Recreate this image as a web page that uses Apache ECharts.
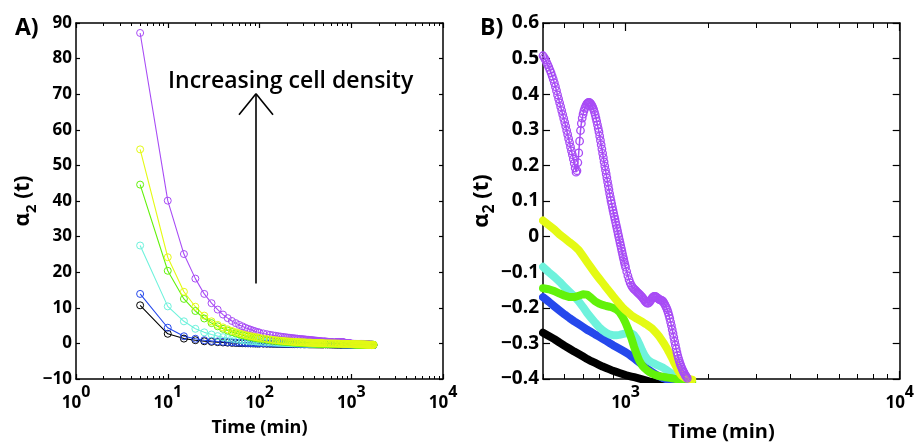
<!DOCTYPE html>
<html>
<head>
<meta charset="utf-8">
<script src="https://cdn.jsdelivr.net/npm/echarts@6/dist/echarts.min.js"></script>
<style>
html,body{margin:0;padding:0;background:#fff;}
#chart{width:917px;height:447px;}
</style>
</head>
<body>
<div id="chart"></div>
<script>
// ---------- DATA ----------
// sample times (min)
const tEarly = [5,10,15,20,25,30,35,40,45,50,55,60,65,70,75,80,85,90,95,100,
  110,120,130,140,150,160,170,180,190,200,210,220,230,240,250,260,270,280,290,300,
  310,320,330,340,350,360,370,380,390,400,410,420,430,440,450,460,470,480,490];
const tLate = [500,525,550,575,600,625,650,675,700,725,750,775,800,825,850,875,900,925,950,975,
  1000,1025,1050,1075,1100,1125,1150,1175,1200,1225,1250,1275,1300,1325,1350,1375,1400,1425,1450,1475,
  1500,1525,1550,1575,1600,1625,1650,1675,1700,1725,1750];
const tPurpleLate = [500,505,510,515,520,525,530,535,540,545,550,555,560,565,570,575,580,585,590,595,
  600,605,610,615,620,625,630,635,640,645,650,655,660,665,670,675,680,685,690,695,
  700,705,710,715,720,725,730,735,740,745,750,755,760,765,770,775,780,785,790,795,
  800,805,810,815,820,825,830,835,840,845,850,855,860,865,870,875,880,885,890,895,
  900,905,910,915,920,925,930,935,940,945,950,955,960,965,970,975,980,985,990,995,1000,
  1010,1020,1030,1040,1050,1060,1070,1080,1090,1100,1110,1120,1130,1140,1150,1160,1170,1180,1190,1200,
  1210,1220,1230,1240,1250,1260,1270,1280,1290,1300,1310,1320,1330,1340,1350,1360,1370,1380,1390,1400,
  1410,1420,1430,1440,1450,1460,1470,1480,1490,1500,1510,1520,1530,1540,1550,1560,1570,1580,1590,1600,
  1610,1620,1630,1640,1650,1660,1670,1680,1690,1700,1710];

// alpha_2(t) values
const purpleEarly = [87.2,40.1,25.1,18.2,13.9,11.3,9.5,8.1,7.1,6.3,5.7,5.2,4.8,4.4,4.1,3.85,3.6,3.4,3.2,3.05,
  2.8,2.6,2.42,2.27,2.14,2.02,1.92,1.83,1.75,1.67,1.6,1.54,1.48,1.42,1.37,1.32,1.27,1.23,1.19,1.15,
  1.11,1.07,1.03,1.0,0.96,0.93,0.9,0.86,0.83,0.8,0.77,0.74,0.71,0.68,0.65,0.62,0.59,0.56,0.535];
const yellowEarly = [54.5,24.2,14.5,10.3,7.8,6.2,5.2,4.5,3.95,3.5,3.15,2.85,2.6,2.38,2.2,2.04,1.9,1.77,1.66,1.56,
  1.38,1.23,1.1,0.99,0.9,0.82,0.75,0.69,0.63,0.58,0.54,0.5,0.46,0.43,0.4,0.37,0.34,0.32,0.3,0.28,
  0.26,0.24,0.22,0.2,0.19,0.17,0.16,0.14,0.13,0.12,0.11,0.1,0.09,0.08,0.075,0.068,0.06,0.054,0.05];
const greenEarly = [44.6,20.4,12.5,9.1,7.0,5.7,4.8,4.1,3.6,3.2,2.85,2.55,2.3,2.1,1.92,1.77,1.63,1.51,1.4,1.3,
  1.13,0.99,0.87,0.77,0.68,0.6,0.53,0.47,0.42,0.37,0.33,0.29,0.26,0.23,0.2,0.18,0.15,0.13,0.11,0.09,
  0.075,0.06,0.045,0.03,0.02,0.005,-0.005,-0.02,-0.03,-0.045,-0.06,-0.07,-0.085,-0.095,-0.105,-0.115,-0.125,-0.133,-0.14];
const cyanEarly = [27.5,10.4,6.2,4.1,3.1,2.5,2.05,1.75,1.5,1.3,1.15,1.02,0.91,0.82,0.74,0.67,0.61,0.55,0.5,0.46,
  0.39,0.33,0.28,0.24,0.2,0.17,0.14,0.12,0.1,0.08,0.06,0.045,0.03,0.02,0.01,0,-0.01,-0.015,-0.02,-0.025,
  -0.03,-0.035,-0.04,-0.044,-0.048,-0.052,-0.056,-0.06,-0.063,-0.066,-0.069,-0.072,-0.074,-0.076,-0.078,-0.08,-0.081,-0.083,-0.084];
const blueEarly = [13.9,4.4,2.0,1.3,0.9,0.7,0.55,0.45,0.37,0.3,0.25,0.21,0.17,0.14,0.11,0.09,0.07,0.05,0.035,0.02,
  0,-0.015,-0.028,-0.04,-0.05,-0.06,-0.068,-0.076,-0.083,-0.09,-0.096,-0.102,-0.107,-0.112,-0.117,-0.121,-0.125,-0.129,-0.133,-0.136,
  -0.139,-0.142,-0.145,-0.147,-0.15,-0.152,-0.154,-0.156,-0.158,-0.16,-0.161,-0.163,-0.164,-0.165,-0.166,-0.167,-0.168,-0.169,-0.169];
const blackEarly = [10.7,2.7,1.35,0.9,0.6,0.45,0.35,0.27,0.21,0.16,0.12,0.09,0.06,0.04,0.02,0,-0.015,-0.03,-0.04,-0.05,
  -0.07,-0.09,-0.105,-0.12,-0.13,-0.14,-0.15,-0.16,-0.168,-0.176,-0.183,-0.19,-0.196,-0.202,-0.207,-0.212,-0.217,-0.221,-0.225,-0.229,
  -0.233,-0.236,-0.239,-0.242,-0.245,-0.247,-0.25,-0.252,-0.254,-0.256,-0.258,-0.26,-0.261,-0.263,-0.264,-0.265,-0.266,-0.267,-0.268];

const purpleLate = [0.508,0.503,0.497,0.490,0.483,0.476,0.468,0.460,0.451,0.442,0.432,0.421,0.410,0.398,0.387,0.376,0.365,0.354,0.343,0.332,
  0.321,0.310,0.298,0.287,0.275,0.264,0.252,0.241,0.230,0.218,0.206,0.193,0.181,0.185,0.208,0.235,0.268,0.298,0.318,0.333,
  0.344,0.353,0.360,0.366,0.371,0.374,0.376,0.377,0.376,0.374,0.371,0.367,0.362,0.357,0.350,0.342,0.333,0.324,0.314,0.304,
  0.294,0.282,0.270,0.258,0.246,0.234,0.222,0.210,0.198,0.187,0.176,0.165,0.154,0.143,0.132,0.121,0.111,0.101,0.092,0.083,
  0.074,0.065,0.057,0.049,0.040,0.032,0.024,0.016,0.007,-0.001,-0.009,-0.017,-0.025,-0.033,-0.041,-0.049,-0.057,-0.064,-0.072,-0.079,-0.086,
  -0.098,-0.110,-0.121,-0.130,-0.137,-0.142,-0.146,-0.149,-0.152,-0.155,-0.158,-0.161,-0.164,-0.167,-0.170,-0.174,-0.178,-0.182,-0.185,-0.187,
  -0.187,-0.185,-0.181,-0.177,-0.173,-0.170,-0.168,-0.168,-0.169,-0.171,-0.173,-0.175,-0.177,-0.178,-0.179,-0.180,-0.182,-0.186,-0.190,-0.195,
  -0.200,-0.206,-0.213,-0.221,-0.230,-0.240,-0.250,-0.261,-0.272,-0.283,-0.294,-0.305,-0.315,-0.325,-0.334,-0.342,-0.349,-0.356,-0.362,-0.367,
  -0.372,-0.377,-0.381,-0.385,-0.389,-0.392,-0.395,-0.398,-0.401,-0.404,-0.407];
const yellowLate = [0.045,0.032,0.02,0.006,-0.005,-0.016,-0.026,-0.038,-0.055,-0.072,-0.088,-0.103,-0.117,-0.13,-0.143,-0.155,-0.167,-0.178,-0.189,-0.199,
  -0.207,-0.214,-0.221,-0.226,-0.231,-0.235,-0.239,-0.244,-0.248,-0.253,-0.258,-0.265,-0.272,-0.28,-0.289,-0.298,-0.308,-0.318,-0.329,-0.34,
  -0.352,-0.363,-0.374,-0.383,-0.39,-0.394,-0.397,-0.399,-0.4,-0.401,-0.402];
const greenLate = [-0.145,-0.148,-0.153,-0.16,-0.166,-0.17,-0.17,-0.166,-0.162,-0.163,-0.172,-0.182,-0.188,-0.192,-0.195,-0.197,-0.2,-0.204,-0.212,-0.225,
  -0.242,-0.262,-0.285,-0.31,-0.332,-0.35,-0.362,-0.37,-0.376,-0.381,-0.385,-0.388,-0.39,-0.392,-0.393,-0.394,-0.395,-0.396,-0.397,-0.398,
  -0.399,-0.4,-0.401,-0.402,-0.403,-0.404,-0.405,-0.406,-0.407,-0.408,-0.409];
const cyanLate = [-0.085,-0.1,-0.113,-0.127,-0.142,-0.155,-0.168,-0.182,-0.198,-0.215,-0.229,-0.242,-0.254,-0.263,-0.27,-0.275,-0.277,-0.277,-0.276,-0.274,
  -0.272,-0.271,-0.272,-0.277,-0.288,-0.303,-0.32,-0.334,-0.344,-0.35,-0.354,-0.357,-0.36,-0.363,-0.366,-0.369,-0.373,-0.377,-0.381,-0.385,
  -0.389,-0.393,-0.397,-0.4,-0.403,-0.405,-0.407,-0.409,-0.411,-0.413,-0.415];
const blueLate = [-0.17,-0.183,-0.196,-0.208,-0.219,-0.229,-0.238,-0.246,-0.254,-0.262,-0.268,-0.275,-0.281,-0.287,-0.293,-0.299,-0.305,-0.31,-0.315,-0.32,
  -0.325,-0.33,-0.336,-0.342,-0.348,-0.354,-0.36,-0.366,-0.371,-0.376,-0.381,-0.385,-0.389,-0.392,-0.395,-0.398,-0.4,-0.402,-0.404,-0.406,
  -0.409,-0.412,-0.415,-0.418,-0.421,-0.424,-0.427,-0.43,-0.433,-0.436,-0.439];
const blackLate = [-0.27,-0.279,-0.288,-0.298,-0.307,-0.315,-0.323,-0.33,-0.337,-0.344,-0.35,-0.355,-0.36,-0.365,-0.369,-0.373,-0.377,-0.38,-0.383,-0.386,
  -0.389,-0.391,-0.393,-0.395,-0.397,-0.399,-0.401,-0.403,-0.405,-0.407,-0.409,-0.411,-0.413,-0.415,-0.417,-0.419,-0.421,-0.423,-0.425,-0.427,
  -0.429,-0.431,-0.433,-0.435,-0.437,-0.439,-0.441,-0.443,-0.445,-0.447,-0.449];

// tick labels (decade exponents)
const leftXDecades = [0,1,2,3,4];
const rightXDecades = [3,4];

// ---------- STYLE ----------
const FONT = 'Open Sans';
const COL = {black:'#000000', blue:'#2548ec', cyan:'#6ef2dc', purple:'#a84cf5', green:'#62f20a', yellow:'#e4fa14'};

function pairs(ts, vs){ return ts.map((t,i)=>[t, vs[i]]); }

const seriesDefs = [
  {name:'black', early:blackEarly, late:blackLate, lt:tLate},
  {name:'blue', early:blueEarly, late:blueLate, lt:tLate},
  {name:'cyan', early:cyanEarly, late:cyanLate, lt:tLate},
  {name:'purple', early:purpleEarly, late:purpleLate, lt:tPurpleLate},
  {name:'green', early:greenEarly, late:greenLate, lt:tLate},
  {name:'yellow', early:yellowEarly, late:yellowLate, lt:tLate}
];

function minorTicks(lo, hi){
  const out=[];
  for(let d=Math.floor(lo); d<hi; d++){
    for(let k=2;k<=9;k++){ const v=d+Math.log10(k); if(v>=lo-1e-9 && v<=hi+1e-9) out.push(v); }
  }
  return out;
}

const LMIN = 0, LMAX = 4;
const RMIN = Math.log10(500), RMAX = 4;

function decadeAxis(grid, lo, hi, pos, majors, showLabels, majLen, name, nameGap, nameSize, labelSize){
  return {
    type:'value', gridIndex:grid, min:lo, max:hi, position:pos,
    axisLine:{show:true, onZero:false, lineStyle:{color:'#000', width:1.5}},
    axisTick:{show:true, inside:true, length:majLen, customValues:majors, lineStyle:{color:'#000', width:1.2}},
    axisLabel:{show:!!showLabels, customValues:majors, margin:5,
      formatter:(v)=>'{b|10}{s|'+Math.round(v)+'}',
      rich:{
        b:{fontFamily:FONT, fontWeight:'bold', fontSize:labelSize, lineHeight:28, verticalAlign:'bottom', color:'#000'},
        s:{fontFamily:FONT, fontWeight:'bold', fontSize:labelSize-1, lineHeight:labelSize-1, verticalAlign:'top', color:'#000'}
      }},
    splitLine:{show:false},
    name: name || '', nameLocation:'middle', nameGap:nameGap||0,
    nameTextStyle:{fontFamily:FONT, fontWeight:'bold', fontSize:nameSize||16, color:'#000'}
  };
}
function minorAxis(grid, lo, hi, pos, len){
  return {
    type:'value', gridIndex:grid, min:lo, max:hi, position:pos,
    axisLine:{show:false, onZero:false},
    axisTick:{show:true, inside:true, length:len, customValues:minorTicks(lo,hi), lineStyle:{color:'#000', width:1}},
    axisLabel:{show:false}, splitLine:{show:false}
  };
}

const yName = (sz)=>({
  name:'{a|α}{s|2}{a| (t)}', nameLocation:'middle', nameRotate:90,
  nameTextStyle:{rich:{
    a:{fontFamily:FONT, fontWeight:'bold', fontSize:sz, lineHeight:26, verticalAlign:'top', color:'#000'},
    s:{fontFamily:FONT, fontWeight:'bold', fontSize:sz-6, lineHeight:sz-6, verticalAlign:'bottom', color:'#000'}
  }}
});

const fmtY = (v)=>{ if (Math.abs(v)<1e-9) return '0'; const s = Number.isInteger(v) ? String(v) : v.toFixed(1); return s.replace('-', '\u2212'); };

const option = {
  animation:false,
  backgroundColor:'#fff',
  grid:[
    {left:76, top:23, width:367, height:356},
    {left:543, top:23, width:360, height:356}
  ],
  xAxis:[
    {type:'log', gridIndex:0, min:1, max:10000, show:false, logBase:10},
    decadeAxis(0, LMIN, LMAX, 'bottom', leftXDecades, true, 5, 'Time (min)', 40, 18, 17),
    minorAxis(0, LMIN, LMAX, 'bottom', 3),
    decadeAxis(0, LMIN, LMAX, 'top', leftXDecades, false, 5),
    minorAxis(0, LMIN, LMAX, 'top', 3),
    {type:'log', gridIndex:1, min:500, max:10000, show:false, logBase:10},
    decadeAxis(1, RMIN, RMAX, 'bottom', rightXDecades, true, 8, 'Time (min)', 43, 20, 17),
    minorAxis(1, RMIN, RMAX, 'bottom', 5),
    decadeAxis(1, RMIN, RMAX, 'top', rightXDecades, false, 8),
    minorAxis(1, RMIN, RMAX, 'top', 5)
  ],
  yAxis:[
    Object.assign({type:'value', gridIndex:0, min:-10, max:90, interval:10, position:'left',
      axisLine:{show:true, onZero:false, lineStyle:{color:'#000', width:1.5}},
      axisTick:{inside:true, length:4, lineStyle:{color:'#000', width:1.2}},
      axisLabel:{margin:4, fontFamily:FONT, fontWeight:'bold', fontSize:17, color:'#000', formatter:fmtY},
      splitLine:{show:false}, nameGap:36}, yName(21)),
    {type:'value', gridIndex:0, min:-10, max:90, interval:10, position:'right',
      axisLine:{show:true, onZero:false, lineStyle:{color:'#000', width:1.5}},
      axisTick:{inside:true, length:4, lineStyle:{color:'#000', width:1.2}},
      axisLabel:{show:false}, splitLine:{show:false}},
    Object.assign({type:'value', gridIndex:1, min:-0.4, max:0.6, interval:0.1, position:'left',
      axisLine:{show:true, onZero:false, lineStyle:{color:'#000', width:1.5}},
      axisTick:{inside:true, length:7, lineStyle:{color:'#000', width:1.2}},
      axisLabel:{margin:4, fontFamily:FONT, fontWeight:'bold', fontSize:19, color:'#000', formatter:fmtY},
      splitLine:{show:false}, nameGap:35}, yName(22)),
    {type:'value', gridIndex:1, min:-0.4, max:0.6, interval:0.1, position:'right',
      axisLine:{show:true, onZero:false, lineStyle:{color:'#000', width:1.5}},
      axisTick:{inside:true, length:7, lineStyle:{color:'#000', width:1.2}},
      axisLabel:{show:false}, splitLine:{show:false}}
  ],
  series:[],
  graphic:[
    {type:'text', left:15, top:17, style:{text:'A)', fontFamily:FONT, fontWeight:'bold', fontSize:23, fill:'#000'}},
    {type:'text', left:480, top:17, style:{text:'B)', fontFamily:FONT, fontWeight:'bold', fontSize:23, fill:'#000'}},
    {type:'text', left:168, top:70, style:{text:'Increasing cell density', fontFamily:FONT, fontWeight:600, fontSize:23, fill:'#000'}}
  ]
};

// left panel: thin lines with open circles
seriesDefs.forEach((d)=>{
  const c = COL[d.name];
  option.series.push({
    type:'line', name:d.name+'-A', xAxisIndex:0, yAxisIndex:0,
    data: pairs(tEarly, d.early).concat(pairs(d.lt, d.late)),
    symbol:'circle', symbolSize:7, showAllSymbol:true,
    itemStyle:{color:'transparent', borderColor:c, borderWidth:1},
    lineStyle:{color:c, width:1.1},
    emphasis:{disabled:true}, silent:true
  });
});
// arrow annotation (in data coordinates of panel A)
option.series[0].markLine = {
  silent:true, symbol:['none','none'], label:{show:false},
  lineStyle:{color:'#000', width:1.6, type:'solid'},
  data:[
    [{coord:[91.6,16.8]},{coord:[91.6,70.1]}],
    [{coord:[91.6,70.1]},{coord:[59.8,64.2]}],
    [{coord:[91.6,70.1]},{coord:[140.3,64.2]}]
  ]
};

// right panel: thick bands / dense open circles
seriesDefs.forEach((d)=>{
  const c = COL[d.name];
  const s = {
    type:'line', name:d.name+'-B', xAxisIndex:5, yAxisIndex:2,
    data: pairs(d.lt, d.late), clip:true,
    emphasis:{disabled:true}, silent:true
  };
  if (d.name === 'purple') {
    Object.assign(s, {symbol:'circle', symbolSize:7.5, showAllSymbol:true,
      itemStyle:{color:'transparent', borderColor:c, borderWidth:1.3},
      lineStyle:{color:c, width:1.5}});
  } else {
    Object.assign(s, {symbol:'none', lineStyle:{color:c, width:8, cap:'round', join:'round'}});
  }
  option.series.push(s);
});

const chart = echarts.init(document.getElementById('chart'), null, {renderer:'canvas'});
chart.setOption(option);
</script>
</body>
</html>
